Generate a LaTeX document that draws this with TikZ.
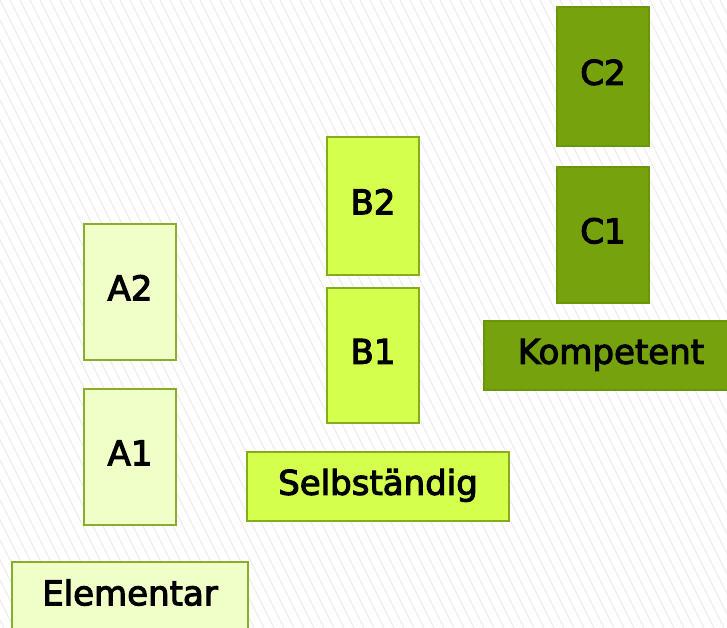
\documentclass[tikz,border=0pt]{standalone}
\usepackage{fontspec}
\setmainfont{DejaVu Sans}
\newfontfamily\lvlfont[FakeBold=3.2]{DejaVu Sans}
\definecolor{afill}{HTML}{F0FFC8}
\definecolor{bfill}{HTML}{D4FF4C}
\definecolor{cfill}{HTML}{76A20E}
\definecolor{aline}{HTML}{88AE2A}
\definecolor{bline}{HTML}{86AC1C}
\definecolor{cline}{HTML}{6A960A}
\definecolor{hatch}{HTML}{ECECEC}
\tikzset{
  lvl/.style={draw, rectangle, line width=2pt, inner sep=0pt,
    font=\lvlfont\fontsize{34}{40}\selectfont, text height=26pt, text depth=9.5pt,
    text=black},
  alvl/.style={lvl, fill=afill, draw=aline},
  blvl/.style={lvl, fill=bfill, draw=bline},
  clvl/.style={lvl, fill=cfill, draw=cline},
  hatchline/.style={draw=hatch, line width=1pt}
}
\begin{document}
\begin{tikzpicture}[x=1pt,y=1pt]
\useasboundingbox (0,0) rectangle (727,-628);
\fill[white] (0,0) rectangle (727,-628);
\begin{scope}
\clip (0,0) rectangle (727,-628);
\foreach \i in {-330,-320,...,740} {
  \draw[hatchline] (\i,0) -- (\i+314,-628);
}
\end{scope}
\node[clvl, minimum width=92, minimum height=139] (c2) at (603,-76.5) {C2};
\node[clvl, minimum width=92, minimum height=136] (c1) at (603,-235) {C1};
\node[clvl, minimum width=254, minimum height=69] (komp) at (611,-355.5) {Kompetent};
\node[blvl, minimum width=92, minimum height=138] (b2) at (373,-206) {B2};
\node[blvl, minimum width=92, minimum height=135] (b1) at (373,-355.5) {B1};
\node[blvl, minimum width=262, minimum height=69] (selb) at (378,-486.5) {Selbständig};
\node[alvl, minimum width=92, minimum height=136] (a2) at (130,-292) {A2};
\node[alvl, minimum width=92, minimum height=136] (a1) at (130,-457) {A1};
\node[alvl, minimum width=236, minimum height=70] (elem) at (130,-597) {Elementar};
\end{tikzpicture}
\end{document}
